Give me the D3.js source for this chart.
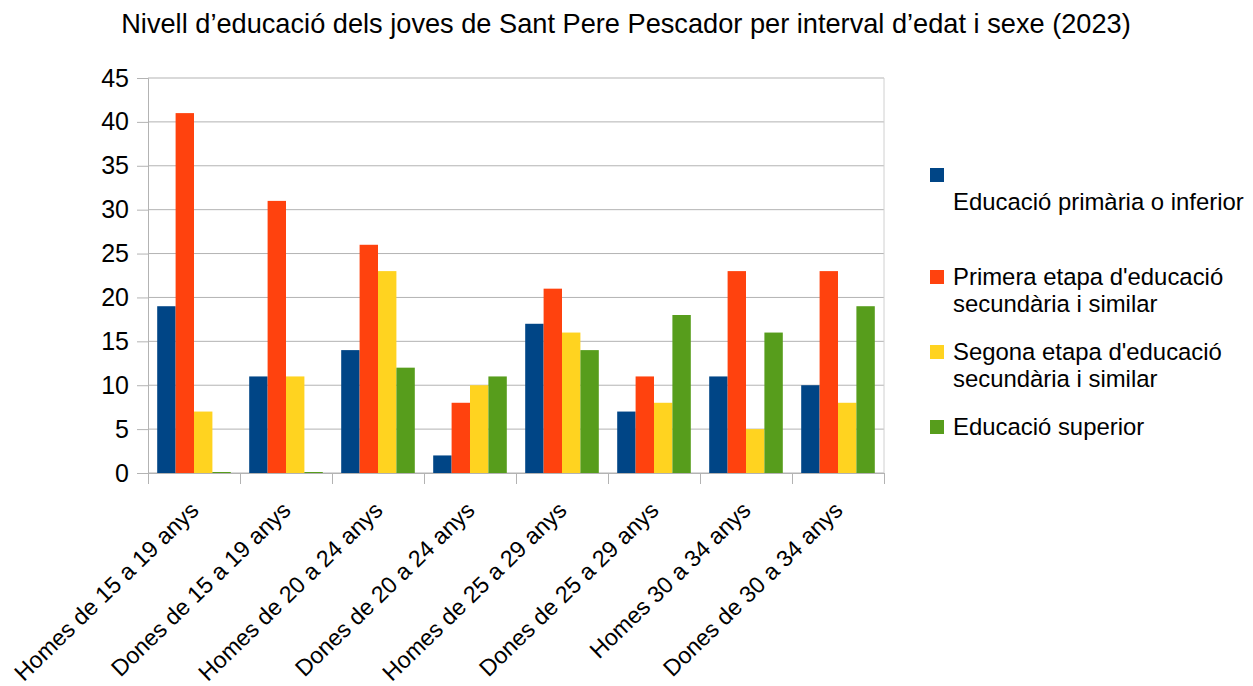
<!DOCTYPE html>
<html>
<head>
<meta charset="utf-8">
<script src="https://cdn.jsdelivr.net/npm/d3@7"></script>
<style>
  body { margin: 0; background: #fff; }
  text { font-family: "Liberation Sans", Arial, sans-serif; fill: #000; }
</style>
</head>
<body>
<div id="chart"></div>
<script>
// data
const categories = ["Homes de 15 a 19 anys", "Dones de 15 a 19 anys", "Homes de 20 a 24 anys",
    "Dones de 20 a 24 anys", "Homes de 25 a 29 anys", "Dones de 25 a 29 anys",
    "Homes 30 a 34 anys", "Dones de 30 a 34 anys"];
const seriesNames = ["Educació primària o inferior", "Primera etapa d'educació secundària i similar",
    "Segona etapa d'educació secundària i similar", "Educació superior"];
const legendLines = [["", "Educació primària o inferior", ""],
    ["Primera etapa d'educació", "secundària i similar"],
    ["Segona etapa d'educació", "secundària i similar"],
    ["Educació superior"]];
const primaria = [19, 11, 14, 2, 17, 7, 11, 10];
const primeraEtapa = [41, 31, 26, 8, 21, 11, 23, 23];
const segonaEtapa = [7, 11, 23, 10, 16, 8, 5, 8];
const superior = [0, 0, 12, 11, 14, 18, 16, 19];
const yTicks = [0, 5, 10, 15, 20, 25, 30, 35, 40, 45];
const colors = ["#004586", "#ff420e", "#ffd320", "#579d1c"];

const series = [primaria, primeraEtapa, segonaEtapa, superior];

const svgWidth = 1253;
const svgHeight = 686;
const margin = { top: 78, right: 369, bottom: 213, left: 148 };
const width = svgWidth - margin.left - margin.right;
const height = svgHeight - margin.top - margin.bottom;

const svg = d3.select("#chart")
    .append("svg")
    .attr("width", svgWidth)
    .attr("height", svgHeight);

// title
svg.append("text")
    .attr("x", 626)
    .attr("y", 33)
    .attr("text-anchor", "middle")
    .attr("font-size", "27.2px")
    .text("Nivell d’educació dels joves de Sant Pere Pescador per interval d’edat i sexe (2023)");

const chartGroup = svg.append("g")
    .attr("transform", `translate(${margin.left}, ${margin.top})`);

const x0 = d3.scaleBand()
    .domain(categories)
    .range([0, width])
    .paddingInner(0.2)
    .paddingOuter(0.1);

const x1 = d3.scaleBand()
    .domain(d3.range(series.length))
    .range([0, x0.bandwidth()]);

const y = d3.scaleLinear()
    .domain([0, 45])
    .range([height, 0]);

// gridlines
chartGroup.selectAll(".grid")
    .data(yTicks)
    .enter()
    .append("line")
    .attr("x1", 0)
    .attr("x2", width)
    .attr("y1", d => y(d))
    .attr("y2", d => y(d))
    .attr("stroke", "#b3b3b3")
    .attr("stroke-width", 1);

// right border
chartGroup.append("line")
    .attr("x1", width).attr("x2", width)
    .attr("y1", 0).attr("y2", height)
    .attr("stroke", "#d0d0d0");

// y axis
const leftAxis = d3.axisLeft(y)
    .tickValues(yTicks)
    .tickSize(11)
    .tickPadding(8);
const yAxis = chartGroup.append("g").call(leftAxis);
yAxis.select(".domain").attr("stroke", "#b3b3b3");
yAxis.selectAll(".tick line").attr("stroke", "#b3b3b3");
yAxis.selectAll("text")
    .attr("font-size", "25px")
    .attr("font-family", "Liberation Sans, Arial, sans-serif")
    .attr("fill", "#000");

// x axis: ticks at category boundaries
const xTick = d3.scaleLinear().domain([0, categories.length]).range([0, width]);
const bottomAxis = d3.axisBottom(xTick)
    .tickValues(d3.range(categories.length + 1))
    .tickSize(11)
    .tickFormat("");
const xAxis = chartGroup.append("g")
    .attr("transform", `translate(0, ${height})`)
    .call(bottomAxis);
xAxis.select(".domain").attr("stroke", "#b3b3b3");
xAxis.selectAll(".tick line").attr("stroke", "#b3b3b3");

// bars
const groups = chartGroup.selectAll(".cat")
    .data(categories)
    .enter()
    .append("g")
    .attr("transform", d => `translate(${x0(d)}, 0)`);

groups.selectAll("rect")
    .data((d, i) => series.map((s, j) => ({ j: j, v: s[i] })))
    .enter()
    .append("rect")
    .attr("x", d => x1(d.j))
    .attr("width", x1.bandwidth())
    .attr("y", d => d.v === 0 ? y(0) - 1 : y(d.v))
    .attr("height", d => d.v === 0 ? 1 : y(0) - y(d.v))
    .attr("fill", d => colors[d.j]);

// x labels rotated
chartGroup.selectAll(".xlabel")
    .data(categories)
    .enter()
    .append("text")
    .attr("text-anchor", "end")
    .attr("font-size", "23.2px")
    .attr("transform", d => `translate(${x0(d) + x0.bandwidth() / 2 + 6}, ${height + 39}) rotate(-44)`)
    .text(d => d);

// legend
const legend = svg.append("g");
let cy = 183;
legendLines.forEach((lines, i) => {
    legend.append("rect")
        .attr("x", 930)
        .attr("y", cy - 15)
        .attr("width", 14)
        .attr("height", 14)
        .attr("fill", colors[i]);
    lines.forEach((line, k) => {
        legend.append("text")
            .attr("x", 953)
            .attr("y", cy + k * 27)
            .attr("font-size", "23.9px")
            .text(line);
    });
    cy += lines.length * 27 + 21;
});
</script>
</body>
</html>
